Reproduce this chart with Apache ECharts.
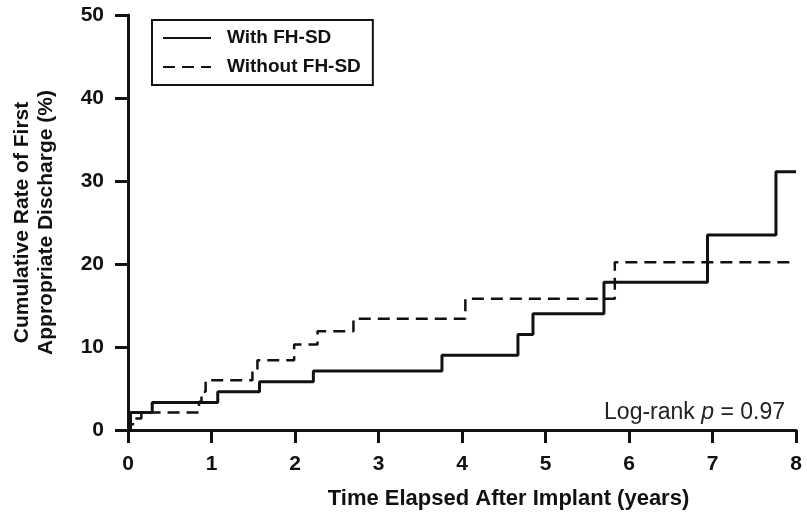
<!DOCTYPE html>
<html>
<head>
<meta charset="utf-8">
<script src="https://cdn.jsdelivr.net/npm/echarts@6/dist/echarts.min.js"></script>
<style>
  html, body { margin: 0; background: #fff; }
  #chart { width: 807px; height: 515px; }
</style>
</head>
<body>
<div id="chart"></div>
<script>
// Kaplan-Meier style steps: time (years) -> cumulative rate (%)
const withTimes = [0, 0.03, 0.29, 1.075, 1.575, 2.22, 3.76, 4.67, 4.85, 5.70, 6.94, 7.76, 8.0];
const withRates = [0, 2.1, 3.3, 4.6, 5.8, 7.1, 9.0, 11.5, 14.0, 17.8, 23.5, 31.1, 31.1];

const withoutTimes = [0, 0.03, 0.08, 0.16, 0.85, 0.88, 0.93, 1.49, 1.55, 1.99, 2.27, 2.70, 4.04, 5.83, 8.0];
const withoutRates = [0, 0.7, 1.4, 2.1, 3.4, 4.6, 6.0, 7.2, 8.4, 10.3, 11.9, 13.4, 15.8, 20.2, 20.2];

const seriesNames = ['With FH-SD', 'Without FH-SD'];
const pValue = '0.97';

const FONT = '"Liberation Sans", Arial, sans-serif';
const INK = '#111';

const pairs = (xs, ys) => xs.map((x, i) => [x, ys[i]]);

const chart = echarts.init(document.getElementById('chart'), null, { renderer: 'canvas' });

chart.setOption({
  animation: false,
  backgroundColor: '#fff',
  grid: { left: 128, right: 11, top: 15, bottom: 84 },
  title: {
    right: 17,
    top: 396,
    text: '{a|Log-rank }{b|p}{a| = ' + pValue + '}',
    textStyle: {
      fontWeight: 'normal',
      rich: {
        a: { fontFamily: FONT, fontSize: 23, fontWeight: 'normal', color: '#222' },
        b: { fontFamily: FONT, fontSize: 23, fontWeight: 'normal', fontStyle: 'italic', color: '#222' },
      },
    },
  },
  legend: {
    orient: 'vertical',
    left: 152,
    top: 20,
    width: 220,
    padding: [8, 12, 8, 10],
    borderColor: INK,
    borderWidth: 2,
    itemWidth: 48,
    itemHeight: 20,
    itemGap: 9,
    itemStyle: { color: 'rgba(0,0,0,0)', borderWidth: 0 },
    textStyle: {
      fontFamily: FONT, fontSize: 19, fontWeight: 'bold', color: INK,
      lineHeight: 20, padding: [0, 0, 0, 11],
    },
    data: seriesNames,
  },
  xAxis: {
    type: 'value',
    min: 0, max: 8, interval: 1,
    name: 'Time Elapsed After Implant (years)',
    nameLocation: 'middle',
    nameGap: 58,
    nameTextStyle: {
      fontFamily: FONT, fontSize: 22, fontWeight: 'bold', color: INK,
      padding: [0, 0, 0, 93],
    },
    axisLine: { lineStyle: { color: INK, width: 3 } },
    axisTick: { length: 13, lineStyle: { color: INK, width: 3 } },
    axisLabel: { margin: 24, fontFamily: FONT, fontSize: 21, fontWeight: 'bold', color: INK },
    splitLine: { show: false },
  },
  yAxis: {
    type: 'value',
    min: 0, max: 50, interval: 10,
    name: 'Cumulative Rate of First\nAppropriate Discharge (%)',
    nameLocation: 'middle',
    nameGap: 70,
    nameTextStyle: { fontFamily: FONT, fontSize: 21, fontWeight: 'bold', color: INK, lineHeight: 24 },
    axisLine: { show: true, lineStyle: { color: INK, width: 3 } },
    axisTick: { show: true, length: 13, lineStyle: { color: INK, width: 3 } },
    axisLabel: { margin: 24, fontFamily: FONT, fontSize: 21, fontWeight: 'bold', color: INK },
    splitLine: { show: false },
  },
  series: [
    {
      name: seriesNames[0],
      type: 'line',
      step: 'end',
      symbol: 'none',
      data: pairs(withTimes, withRates),
      lineStyle: { color: INK, width: 3 },
      itemStyle: { color: INK },
      z: 3,
    },
    {
      name: seriesNames[1],
      type: 'line',
      step: 'end',
      symbol: 'none',
      data: pairs(withoutTimes, withoutRates),
      lineStyle: { color: INK, width: 2.5, type: [12, 7] },
      itemStyle: { color: INK },
      z: 2,
    },
  ],
});
</script>
</body>
</html>
